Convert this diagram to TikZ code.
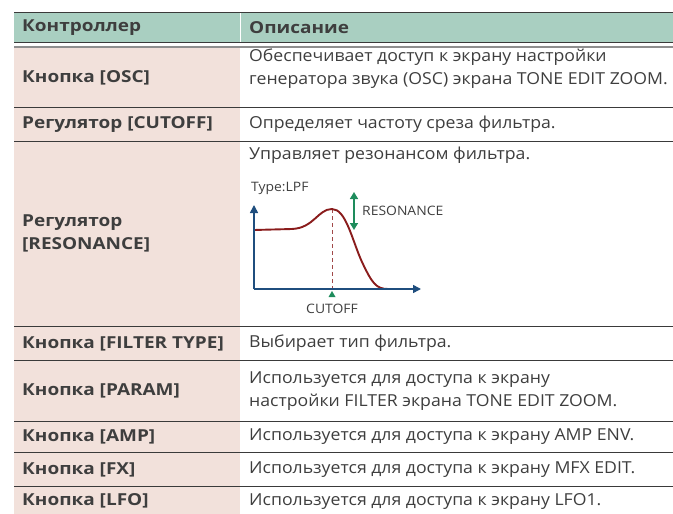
\documentclass[tikz,border=0pt]{standalone}
\usepackage{fontspec}
\setmainfont{Open Sans}[FakeStretch=1.07, BoldFeatures={FakeStretch=1.15}]
\usepackage{tikz}
\usetikzlibrary{arrows.meta}
\definecolor{head}{HTML}{A9CFC1}
\definecolor{pinkbg}{HTML}{F2E1DB}
\definecolor{txt}{HTML}{3E3E3E}
\definecolor{rulec}{HTML}{3A3A3A}
\definecolor{grayrule}{HTML}{8E8E8E}
\definecolor{navy}{HTML}{1F4E7E}
\definecolor{curvec}{HTML}{8A1C1C}
\definecolor{greenc}{HTML}{1E8C5C}
\tikzset{
  rule/.style={draw=rulec, line width=0.9pt},
  ctl/.style={anchor=west, text=txt, font=\fontsize{16.5}{23}\selectfont\bfseries, align=left, inner sep=0pt},
  desc/.style={anchor=west, text=txt, font=\fontsize{16.5}{23}\selectfont, align=left, inner sep=0pt},
  axis/.style={draw=navy, line width=1.6pt, -{Triangle[length=8pt,width=8pt]}},
  curve/.style={draw=curvec, line width=1.9pt},
  glbl/.style={text=txt, font=\fontsize{13}{15}\selectfont, inner sep=0pt}
}
\begin{document}
\begin{tikzpicture}[x=1pt, y=-1pt]
  \useasboundingbox (0,0) rectangle (673,514);

  % backgrounds
  \fill[head] (14,12) rectangle (673,42);
  \fill[pinkbg] (14,47) rectangle (240,514);
  \draw[white, line width=0.5pt] (240,12) -- (240,42);

  % rules
  \draw[rule] (14,12) -- (673,12);
  \draw[rule] (14,42) -- (673,42);
  \draw[draw=grayrule, line width=1.2pt] (14,47) -- (673,47);
  \foreach \y in {107,141,326,360,421,452,486}
    \draw[rule] (14,\y) -- (673,\y);

  % header
  \node[ctl] (hdctl) at (22,27.5) {Контроллер};
  \node[ctl] (hddesc) at (249,27.5) {Описание};

  % rows
  \node[ctl] (ctlosc) at (22,77.5) {Кнопка [OSC]};
  \node[desc] (descosc) at (249,68.5) {Обеспечивает доступ к экрану настройки\\генератора звука (OSC) экрана TONE EDIT ZOOM.};
  \node[ctl] (ctlcut) at (22,124.5) {Регулятор [CUTOFF]};
  \node[desc] (desccut) at (249,124.5) {Определяет частоту среза фильтра.};
  \node[ctl] (ctlres) at (22,233.5) {Регулятор\\{}[RESONANCE]};
  \node[desc] (descres) at (249,155) {Управляет резонансом фильтра.};
  \node[ctl] (ctlftype) at (22,343.5) {Кнопка [FILTER TYPE]};
  \node[desc] (descftype) at (249,343.5) {Выбирает тип фильтра.};
  \node[ctl] (ctlparam) at (22,391) {Кнопка [PARAM]};
  \node[desc] (descparam) at (249,391) {Используется для доступа к экрану\\настройки FILTER экрана TONE EDIT ZOOM.};
  \node[ctl] (ctlamp) at (22,437) {Кнопка [AMP]};
  \node[desc] (descamp) at (249,437) {Используется для доступа к экрану AMP ENV.};
  \node[ctl] (ctlfx) at (22,469.5) {Кнопка [FX]};
  \node[desc] (descfx) at (249,469.5) {Используется для доступа к экрану MFX EDIT.};
  \node[ctl] (ctllfo) at (22,501) {Кнопка [LFO]};
  \node[desc] (desclfo) at (249,501) {Используется для доступа к экрану LFO1.};

  % filter graph
  \coordinate (gO) at (254,289);
  \coordinate (gY) at (254,205);
  \coordinate (gX) at (421,289);
  \coordinate (gPeak) at (332,209);
  \coordinate (gCut) at (332,289);
  \draw[curvec!80, line width=0.8pt, dash pattern=on 4pt off 3pt] (gPeak) -- (gCut);
  \draw[curve] (254,230) -- (292,229)
    .. controls (314,228) and (318,209) .. (gPeak)
    .. controls (346,209) and (352,240) .. (362,262)
    .. controls (372,283) and (376,289) .. (388,289);
  \draw[axis] (gO) -- (gY);
  \draw[axis] (gO) -- (gX);
  \fill[greenc] (332,291) -- (335.5,297) -- (328.5,297) -- cycle;
  \coordinate (rTop) at (354,192);
  \coordinate (rBot) at (354,230);
  \draw[greenc, line width=1.6pt, {Triangle[length=7pt,width=8pt]}-{Triangle[length=7pt,width=8pt]}] (rTop) -- (rBot);
  \node[glbl, anchor=west] (typelbl) at (251,188) {Type:LPF};
  \node[glbl, anchor=west] (reslbl) at (362,211) {RESONANCE};
  \node[glbl] (cutlbl) at (332,309) {CUTOFF};
\end{tikzpicture}
\end{document}
